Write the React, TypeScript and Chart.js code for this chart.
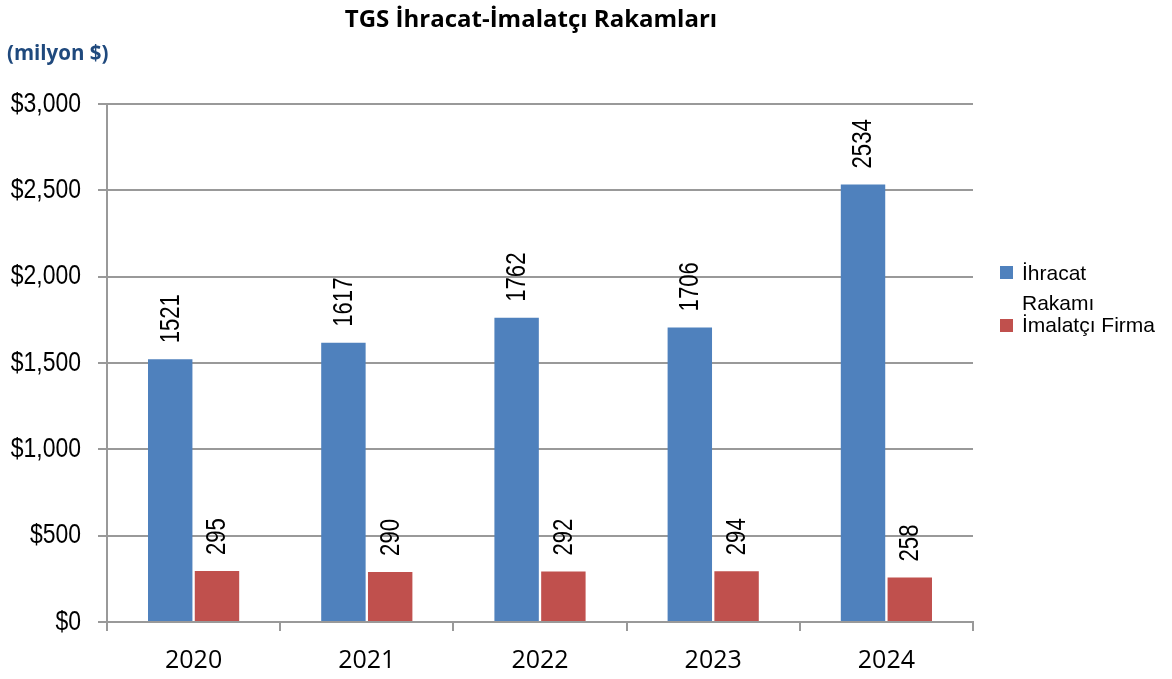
import React, { useEffect, useRef } from "react";
import { Chart, registerables } from "chart.js";

Chart.register(...registerables);

const chartTitle = "TGS İhracat-İmalatçı Rakamları";
const unitLabel = "(milyon $)";
const years = ["2020", "2021", "2022", "2023", "2024"];
const seriesNames = ["İhracat Rakamı", "İmalatçı Firma"];
const legendLines = [["İhracat", "Rakamı"], ["İmalatçı Firma"]];
const exportValues = [1521, 1617, 1762, 1706, 2534];
const manufacturerValues = [295, 290, 292, 294, 258];
const seriesColors = ["#4F81BD", "#C0504D"];

const W = 1172;
const H = 679;
const SANS = "'Liberation Sans', Arial, sans-serif";
const NARROW_X = 0.82;

const fmtDollar = (v: any) => "$" + Number(v).toLocaleString("en-US");

const narrowTextPlugin = {
  id: "narrowText",
  afterDatasetsDraw(chart: any) {
    const ctx = chart.ctx;
    ctx.save();
    ctx.fillStyle = "#000";
    // value labels above bars (rotated, condensed)
    ctx.font = "27px " + SANS;
    ctx.textAlign = "left";
    ctx.textBaseline = "middle";
    chart.data.datasets.forEach((ds: any, di: number) => {
      const meta = chart.getDatasetMeta(di);
      meta.data.forEach((bar: any, i: number) => {
        ctx.save();
        ctx.translate(bar.x + 1, bar.y - 16);
        ctx.rotate(-Math.PI / 2);
        ctx.scale(NARROW_X, 1);
        ctx.fillText(String(ds.data[i]), 0, 0);
        ctx.restore();
      });
    });
    // y tick labels (condensed)
    const ys = chart.scales.y;
    ctx.font = "28px " + SANS;
    ctx.textAlign = "right";
    ctx.textBaseline = "middle";
    ys.ticks.forEach((t: any) => {
      const y = ys.getPixelForValue(t.value);
      ctx.save();
      ctx.translate(81, y);
      ctx.scale(NARROW_X, 1);
      ctx.fillText(fmtDollar(t.value), 0, 0);
      ctx.restore();
    });
    ctx.restore();
  },
};

export default function App() {
  const ref = useRef<HTMLCanvasElement | null>(null);

  useEffect(() => {
    if (!ref.current) return;
    const chart = new Chart(ref.current, {
      type: "bar",
      data: {
        labels: years,
        datasets: [
          {
            label: seriesNames[0],
            data: exportValues,
            backgroundColor: seriesColors[0],
            categoryPercentage: 0.54,
            barPercentage: 0.95,
          },
          {
            label: seriesNames[1],
            data: manufacturerValues,
            backgroundColor: seriesColors[1],
            categoryPercentage: 0.54,
            barPercentage: 0.95,
          },
        ],
      },
      options: {
        responsive: false,
        animation: false,
        devicePixelRatio: 1,
        layout: { padding: { left: 0, right: 199, top: 104, bottom: 0 } },
        plugins: {
          legend: { display: false },
          title: { display: false },
          tooltip: { enabled: false },
        },
        scales: {
          x: {
            offset: true,
            grid: {
              display: true,
              drawOnChartArea: false,
              drawTicks: true,
              tickLength: 9,
              color: "#999",
              lineWidth: 2,
              offset: true,
            },
            border: { color: "#999", width: 2 },
            ticks: {
              color: "#000",
              font: { family: "'Open Sans', sans-serif", size: 25 },
              padding: 15,
            },
            afterFit: (scale: any) => {
              scale.height = 57;
            },
          },
          y: {
            min: 0,
            max: 3000,
            grid: {
              color: "#999",
              lineWidth: 2,
              tickLength: 9,
            },
            border: { color: "#999", width: 2 },
            ticks: {
              stepSize: 500,
              color: "rgba(0,0,0,0)",
              font: { family: SANS, size: 24 },
              padding: 16,
              callback: fmtDollar,
            },
            afterFit: (scale: any) => {
              scale.width = 107;
            },
          },
        },
      },
      plugins: [narrowTextPlugin],
    } as any);
    return () => chart.destroy();
  }, []);

  return (
    <div
      style={{
        position: "fixed",
        left: 0,
        top: 0,
        width: W,
        height: H,
        background: "#fff",
        overflow: "hidden",
      }}
    >
      <canvas ref={ref} width={W} height={H} style={{ position: "absolute", left: 0, top: 0 }} />
      <div
        style={{
          position: "absolute",
          left: 331,
          width: 400,
          top: 2,
          textAlign: "center",
          fontFamily: "'Open Sans', sans-serif",
          fontWeight: 700,
          fontSize: 24,
          lineHeight: "32px",
          color: "#000",
          whiteSpace: "nowrap",
        }}
      >
        {chartTitle}
      </div>
      <div
        style={{
          position: "absolute",
          left: 7,
          top: 37,
          fontFamily: "'Open Sans', sans-serif",
          fontWeight: 700,
          fontSize: 20.5,
          lineHeight: "30px",
          color: "#1F497D",
          whiteSpace: "nowrap",
        }}
      >
        {unitLabel}
      </div>
      {legendLines.map((lines, si) => (
        <React.Fragment key={si}>
          <div
            style={{
              position: "absolute",
              left: 1000,
              top: si === 0 ? 266 : 319,
              width: 13,
              height: 13,
              background: seriesColors[si],
            }}
          />
          {lines.map((line, li) => (
            <div
              key={li}
              style={{
                position: "absolute",
                left: 1022,
                top: si === 0 ? 262 + li * 30 : 314,
                fontFamily: SANS,
                fontSize: 21,
                lineHeight: "21px",
                color: "#000",
                whiteSpace: "nowrap",
              }}
            >
              {line}
            </div>
          ))}
        </React.Fragment>
      ))}
    </div>
  );
}
